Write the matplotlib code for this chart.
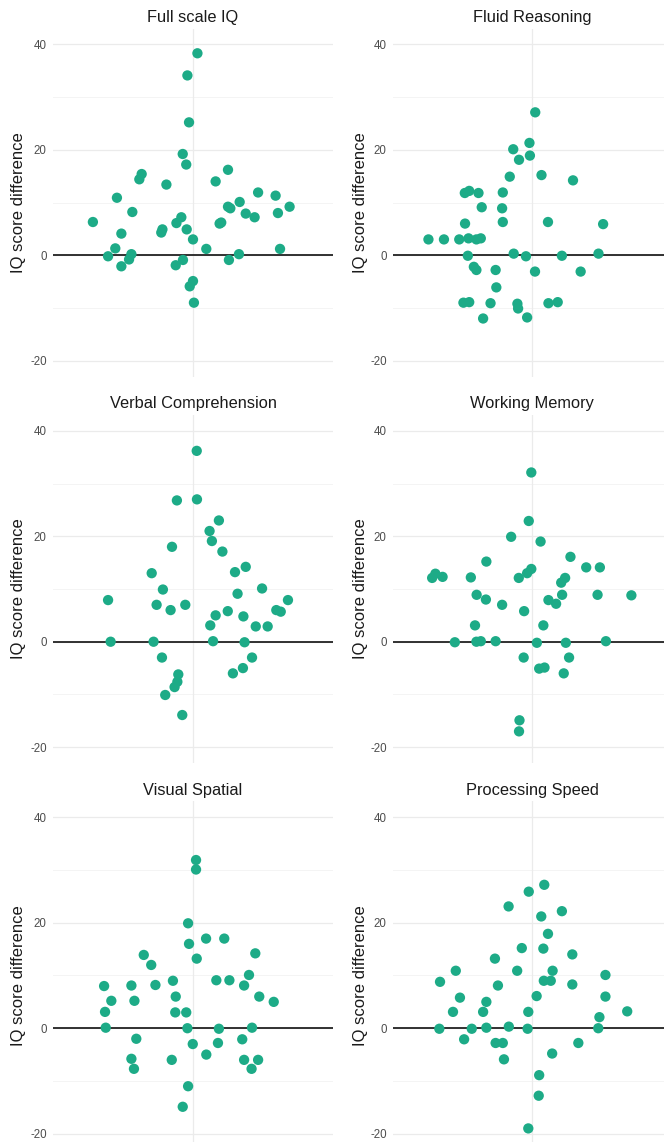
import matplotlib
matplotlib.use("Agg")
import matplotlib.pyplot as plt

plt.rcParams["font.family"] = ["Liberation Sans", "DejaVu Sans"]
plt.rcParams["axes.unicode_minus"] = False

titles = ["Full scale IQ", "Fluid Reasoning", "Verbal Comprehension",
          "Working Memory", "Visual Spatial", "Processing Speed"]

# horizontal jitter (offset from the single category) and score difference
fsiq_x = [0.019, -0.024, -0.017, -0.044, -0.029, 0.15, -0.22, -0.23, 0.097, -0.114,
          0.279, 0.354, -0.326, 0.414, 0.2, 0.15, 0.16, -0.26, 0.226, 0.364,
          0.264, -0.05, -0.071, -0.429, 0.114, 0.121, -0.131, -0.136, -0.307, -0.027,
          0.0, 0.057, -0.333, 0.373, -0.364, -0.264, -0.274, 0.197, 0.154, -0.043,
          -0.074, -0.307, 0.0, -0.014, 0.004]
fsiq_y = [38.3, 34.1, 25.2, 19.2, 17.2, 16.2, 15.4, 14.4, 14.0, 13.4,
          11.9, 11.3, 10.9, 9.2, 10.1, 9.2, 8.9, 8.2, 7.9, 8.0,
          7.2, 7.2, 6.1, 6.3, 6.0, 6.2, 4.9, 4.3, 4.1, 4.9,
          3.0, 1.2, 1.3, 1.2, -0.2, 0.2, -0.8, 0.2, -0.9, -0.9,
          -1.9, -2.1, -4.9, -5.9, -9.0]

fri_x = [0.014, -0.011, -0.081, -0.009, -0.056, -0.096, 0.041, 0.177, -0.29, -0.271,
         -0.231, -0.126, -0.217, -0.129, -0.289, -0.126, 0.069, 0.307, -0.447, -0.38,
         -0.314, -0.274, -0.24, -0.221, -0.079, -0.277, -0.026, 0.129, 0.287, -0.251,
         -0.24, -0.157, 0.013, 0.21, -0.154, -0.296, -0.271, -0.179, -0.063, -0.06,
         0.071, 0.111, -0.211, -0.021]
fri_y = [27.1, 21.3, 20.1, 18.9, 18.1, 14.9, 15.2, 14.2, 11.8, 12.2,
         11.8, 11.9, 9.1, 8.9, 6.0, 6.3, 6.3, 5.9, 3.0, 3.0,
         3.0, 3.2, 3.0, 3.2, 0.3, -0.1, -0.2, -0.1, 0.3, -2.2,
         -2.8, -2.8, -3.1, -3.1, -6.1, -9.0, -8.9, -9.1, -9.2, -10.1,
         -9.1, -8.9, -12.0, -11.8]

vci_x = [0.016, -0.069, 0.017, 0.111, 0.071, 0.081, -0.09, 0.126, 0.226, 0.18,
         -0.177, -0.129, 0.296, 0.191, -0.364, 0.407, -0.156, -0.033, -0.096, 0.149,
         0.357, 0.376, 0.097, 0.216, 0.074, 0.269, 0.32, -0.353, -0.169, 0.086,
         0.221, -0.133, 0.253, 0.214, 0.171, -0.063, -0.067, -0.079, -0.119, -0.046]
vci_y = [36.2, 26.8, 27.0, 23.0, 21.0, 19.1, 18.0, 17.1, 14.2, 13.2,
         13.0, 9.9, 10.1, 9.1, 7.9, 7.9, 7.0, 7.0, 6.0, 5.8,
         6.0, 5.7, 5.0, 4.8, 3.1, 2.9, 2.9, 0.0, 0.0, 0.1,
         -0.1, -3.0, -3.0, -5.0, -6.0, -6.2, -7.6, -8.6, -10.1, -13.9]

wmi_x = [-0.003, -0.014, -0.09, 0.037, 0.166, -0.197, 0.234, 0.293, -0.003, -0.021,
         -0.417, -0.386, -0.431, -0.264, -0.057, 0.143, 0.126, -0.239, 0.13, 0.283,
         0.429, -0.199, 0.071, 0.104, -0.129, -0.034, -0.246, 0.049, -0.333, -0.24,
         -0.221, -0.157, 0.021, 0.146, 0.319, -0.036, 0.16, 0.031, 0.054, 0.137,
         -0.054, -0.056]
wmi_y = [32.1, 22.9, 19.9, 19.0, 16.1, 15.2, 14.1, 14.1, 13.8, 13.0,
         12.9, 12.3, 12.1, 12.2, 12.1, 12.1, 11.2, 8.9, 8.9, 8.9,
         8.8, 8.0, 7.9, 7.2, 7.0, 5.8, 3.1, 3.1, -0.1, 0.0,
         0.1, 0.1, -0.2, -0.2, 0.1, -3.0, -3.0, -5.1, -4.9, -6.0,
         -14.9, -17.0]

vsi_x = [0.013, 0.013, -0.021, -0.017, 0.056, 0.134, -0.211, 0.267, 0.016, -0.179,
         0.24, -0.086, 0.1, 0.156, -0.381, -0.264, -0.161, 0.219, -0.074, 0.284,
         -0.35, -0.251, 0.346, -0.377, -0.076, -0.029, -0.374, -0.024, 0.111, 0.253,
         -0.243, -0.001, 0.107, 0.211, -0.264, -0.091, 0.057, 0.219, 0.279, -0.253,
         0.251, -0.021, -0.044]
vsi_y = [31.9, 30.1, 19.9, 16.0, 17.0, 17.0, 13.9, 14.2, 13.2, 12.0,
         10.1, 9.0, 9.1, 9.1, 8.0, 8.1, 8.2, 8.1, 6.0, 6.0,
         5.2, 5.2, 5.0, 3.1, 3.0, 3.0, 0.1, 0.0, -0.1, 0.1,
         -2.0, -3.0, -2.8, -2.1, -5.8, -6.0, -5.0, -6.0, -6.0, -7.7,
         -7.7, -11.0, -14.9]

psi_x = [0.053, -0.014, -0.101, 0.129, 0.04, 0.069, -0.044, 0.049, 0.174, -0.16,
         -0.329, -0.064, 0.089, 0.317, -0.397, 0.051, 0.081, -0.147, 0.174, -0.311,
         0.02, 0.317, -0.197, -0.341, -0.211, -0.016, 0.411, 0.291, -0.4, -0.26,
         -0.197, -0.1, -0.019, 0.286, -0.293, -0.157, -0.126, 0.2, 0.087, -0.121,
         0.031, 0.029, -0.016]
psi_y = [27.2, 25.9, 23.1, 22.2, 21.2, 17.9, 15.2, 15.1, 14.0, 13.2,
         10.9, 10.9, 10.9, 10.1, 8.8, 9.0, 9.0, 8.1, 8.3, 5.8,
         6.1, 6.0, 5.0, 3.1, 3.1, 3.1, 3.2, 2.1, -0.1, -0.1,
         0.1, 0.3, -0.1, 0.0, -2.1, -2.8, -2.8, -2.8, -4.8, -5.9,
         -8.9, -12.8, -19.0]

panels = [(fsiq_x, fsiq_y), (fri_x, fri_y), (vci_x, vci_y),
          (wmi_x, wmi_y), (vsi_x, vsi_y), (psi_x, psi_y)]

W, H = 664, 1142
fig = plt.figure(figsize=(W / 100, H / 100), dpi=100)

point_color = "#1dab87"
col_left = [53, 393]
col_width = [280, 278]
label_x = [-0.095, -0.09]

for i, (xs, ys) in enumerate(panels):
    r, c = divmod(i, 2)
    top = 28.5 + 386.5 * r
    height = 348
    ax = fig.add_axes([col_left[c] / W, 1 - (top + height) / H,
                       col_width[c] / W, height / H])
    ax.set_xlim(0.4, 1.6)
    ax.set_ylim(-23, 43)

    for v in [-10, 10, 30]:
        ax.axhline(v, color="#f2f2f2", lw=0.6, zorder=0)
    for v in [-20, 0, 20, 40]:
        ax.axhline(v, color="#ebebeb", lw=0.9, zorder=0)
    ax.axvline(1, color="#ebebeb", lw=0.9, zorder=0)
    ax.axhline(0, color="#222222", lw=1.3, zorder=1)

    ax.scatter([1 + x for x in xs], ys, s=55, color=point_color,
               edgecolors="none", zorder=2)

    ax.set_yticks([-20, 0, 20, 40])
    ax.set_xticks([])
    ax.tick_params(axis="y", length=0, pad=4.5, labelsize=8.3, labelcolor="#4d4d4d")
    for s in ax.spines.values():
        s.set_visible(False)
    ax.set_title(titles[i], fontsize=11.8, pad=5, color="#1a1a1a")
    ax.set_ylabel("IQ score difference", fontsize=12, color="#1a1a1a")
    ax.yaxis.set_label_coords(label_x[c], 0.5)

fig.savefig("out.png", dpi=100, facecolor="white")
